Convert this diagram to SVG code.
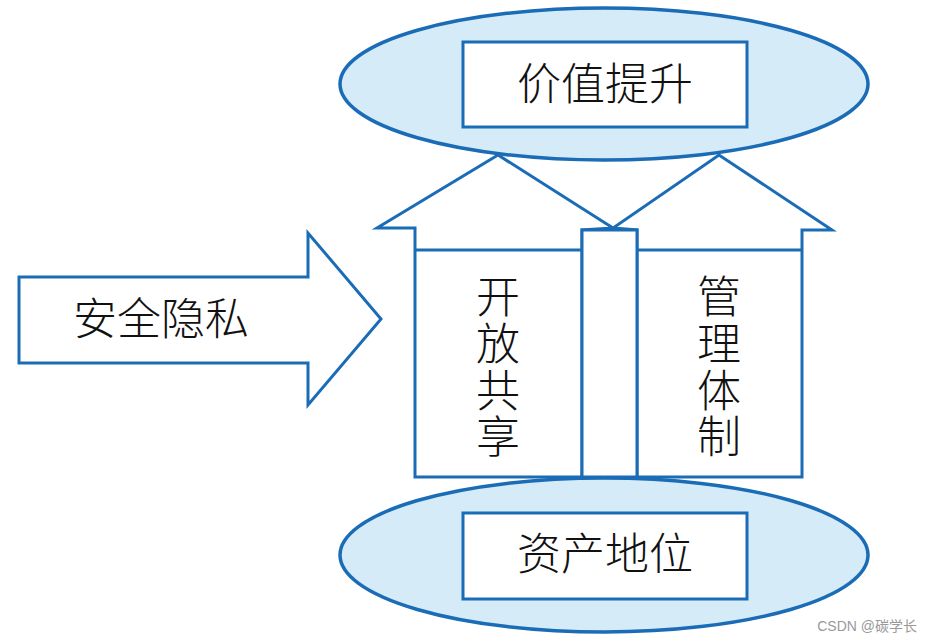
<svg xmlns="http://www.w3.org/2000/svg" width="932" height="641" viewBox="0 0 932 641">
<style>
.ln{fill:none;stroke:#1b6cb6;stroke-width:3;stroke-linejoin:miter}
.box{fill:#ffffff;stroke:#1b6cb6;stroke-width:3}
.ell{fill:#d5ebf8;stroke:#1b6cb6;stroke-width:3.5}
.t{font-family:"Liberation Serif","Noto Sans CJK SC",serif;font-size:44px;font-weight:300;fill:#111;text-anchor:middle;dominant-baseline:central}
.wm{font-family:"Liberation Sans","Noto Sans CJK SC",sans-serif;font-size:14px;fill:#999;text-anchor:end}
</style>
<rect width="932" height="641" fill="#ffffff"/>
<g id="value">
<ellipse class="ell" cx="604" cy="84" rx="264" ry="76"/>
<rect class="box" x="463" y="42" width="284" height="85"/>
<text class="t" x="605" y="85">价值提升</text>
</g>
<g id="asset">
<ellipse class="ell" cx="604" cy="555" rx="264" ry="77"/>
<rect class="box" x="463" y="513" width="284" height="86"/>
<text class="t" x="605" y="555">资产地位</text>
</g>
<g id="security">
<polygon class="box" points="19,277 308,277 308,233 381,319 308,405 308,363 19,363"/>
<text class="t" x="161" y="320">安全隐私</text>
</g>
<g id="open">
<polygon class="box" points="415,477 415,228 377,228 498,155 613,228 582,230 582,477"/>
<line class="ln" x1="415" y1="250" x2="582" y2="250"/>
<text class="t" x="498" y="298">开</text>
<text class="t" x="498" y="345">放</text>
<text class="t" x="498" y="392">共</text>
<text class="t" x="498" y="438">享</text>
</g>
<g id="manage">
<polygon class="box" points="637,477 637,230 613,228 719,155 832,230 802,230 802,477"/>
<line class="ln" x1="637" y1="250" x2="802" y2="250"/>
<text class="t" x="719" y="298">管</text>
<text class="t" x="719" y="345">理</text>
<text class="t" x="719" y="392">体</text>
<text class="t" x="719" y="438">制</text>
</g>
<g id="middle">
<rect class="box" x="582" y="230" width="55" height="247"/>
</g>
<g id="connectors"></g>
<text class="wm" x="917" y="631">CSDN @碳学长</text>
</svg>
